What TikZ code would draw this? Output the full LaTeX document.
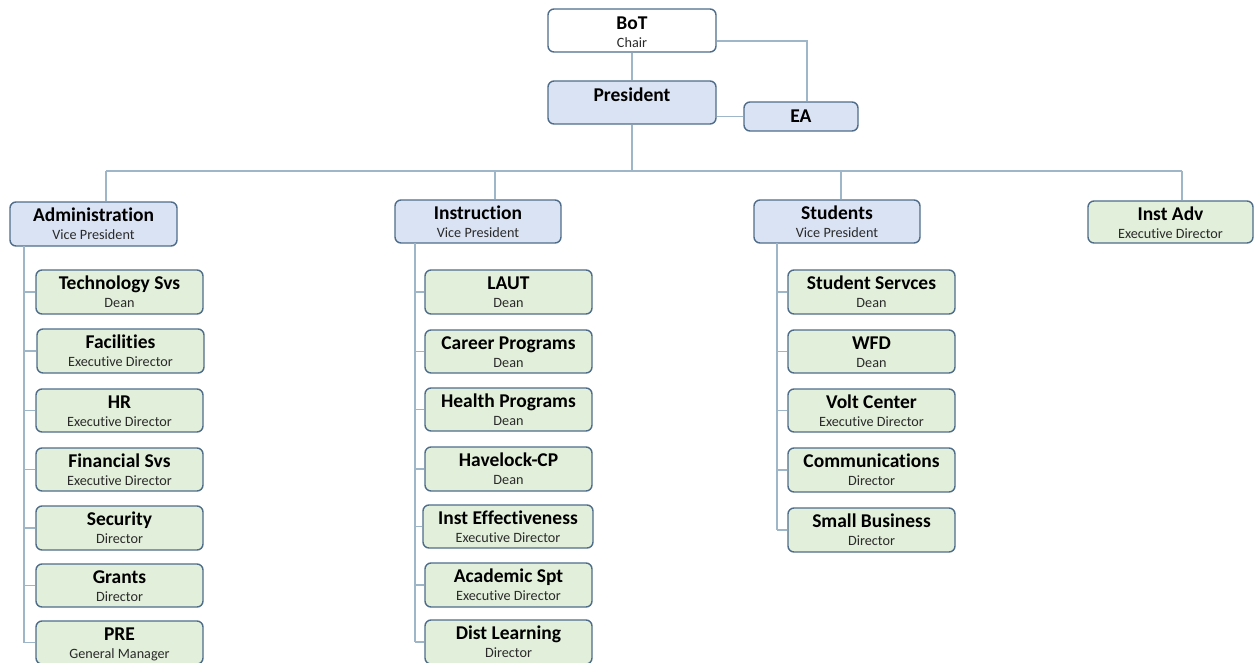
\documentclass[tikz,border=0pt]{standalone}
\usepackage{fontspec}
\setmainfont{Carlito}[Ligatures={NoCommon}]
\usetikzlibrary{fit}
\definecolor{bordc}{HTML}{4F6D8A}
\definecolor{linec}{HTML}{9FB5C8}
\definecolor{bluef}{HTML}{DAE3F3}
\definecolor{greenf}{HTML}{E2EFDA}
\definecolor{subc}{HTML}{2A2A2A}
\tikzset{
  obox/.style={draw=bordc, line width=1.4pt, rounded corners=6pt, inner sep=0pt},
  otitle/.style={anchor=base, inner sep=0pt, font=\fontsize{19.5}{21}\selectfont\bfseries, text=black},
  osub/.style={anchor=base, inner sep=0pt, font=\fontsize{14.2}{16}\selectfont, text=subc},
  conn/.style={draw=linec, line width=1.2pt},
}
\newcommand\orgbox[8]{%
  \node[obox, fill=#6, fit={(#2,#3)(#4,#5)}] (#1) {};
  \node[otitle] (#1-t) at ([yshift=-20.5pt]#1.north) {#7};
  \node[osub] (#1-s) at ([yshift=-38.5pt]#1.north) {#8};
}
\begin{document}
\begin{tikzpicture}[x=1pt,y=-1pt]
\useasboundingbox (0,0) rectangle (1254,662);
\coordinate (bus) at (632,171);
\coordinate (dA) at (106,171);
\coordinate (dI) at (495,171);
\coordinate (dS) at (841,171);
\coordinate (dV) at (1182,171);
\coordinate (eaK) at (807,41);
\coordinate (spA) at (24,246);
\coordinate (spI) at (415,243);
\coordinate (spS) at (777,243);

% top boxes
\node[obox, fill=white, fit={(548,9)(716,52)}] (bot) {};
\node[otitle] (bot-t) at ([yshift=-21pt]bot.north) {BoT};
\node[osub] (bot-s) at ([yshift=-39pt]bot.north) {Chair};
\node[obox, fill=bluef, fit={(548,81)(716,124)}] (pres) {};
\node[otitle] (pres-t) at ([yshift=-21pt]pres.north) {President};
\node[obox, fill=bluef, fit={(744,102)(858,131)}] (ea) {};
\node[otitle] (ea-t) at ([yshift=-21pt]ea.north) {EA};

% level 2
\orgbox{adm}{10}{202}{177}{246}{bluef}{Administration}{Vice President}
\orgbox{ins}{395}{200}{561}{243}{bluef}{Instruction}{Vice President}
\orgbox{stu}{754}{200}{920}{243}{bluef}{Students}{Vice President}
\orgbox{iad}{1088}{201}{1253}{243}{greenf}{Inst Adv}{Executive Director}

% administration children
\orgbox{a1}{36}{270}{203}{314}{greenf}{Technology Svs}{Dean}
\orgbox{a2}{37}{329}{204}{373}{greenf}{Facilities}{Executive Director}
\orgbox{a3}{36}{389}{203}{432}{greenf}{HR}{Executive Director}
\orgbox{a4}{36}{448}{203}{491}{greenf}{Financial Svs}{Executive Director}
\orgbox{a5}{36}{506}{203}{550}{greenf}{Security}{Director}
\orgbox{a6}{36}{564}{203}{607}{greenf}{Grants}{Director}
\orgbox{a7}{36}{621}{203}{664}{greenf}{PRE}{General Manager}

% instruction children
\orgbox{i1}{425}{270}{592}{314}{greenf}{LAUT}{Dean}
\orgbox{i2}{425}{330}{592}{373}{greenf}{Career Programs}{Dean}
\orgbox{i3}{425}{388}{592}{431}{greenf}{Health Programs}{Dean}
\orgbox{i4}{425}{447}{592}{491}{greenf}{Havelock-CP}{Dean}
\orgbox{i5}{423}{505}{593}{548}{greenf}{Inst Effectiveness}{Executive Director}
\orgbox{i6}{425}{563}{592}{607}{greenf}{Academic Spt}{Executive Director}
\orgbox{i7}{425}{620}{592}{664}{greenf}{Dist Learning}{Director}

% students children
\orgbox{s1}{788}{270}{955}{314}{greenf}{Student Servces}{Dean}
\orgbox{s2}{788}{330}{955}{373}{greenf}{WFD}{Dean}
\orgbox{s3}{788}{389}{955}{432}{greenf}{Volt Center}{Executive Director}
\orgbox{s4}{788}{448}{955}{492}{greenf}{Communications}{Director}
\orgbox{s5}{788}{508}{955}{552}{greenf}{Small Business}{Director}

% connectors
\path[conn] (bot.south -| bus) -- (pres.north -| bus);
\path[conn] (pres.south -| bus) -- (bus);
\path[conn] (bot.east |- eaK) -- (eaK) -- (eaK |- ea.north);
\path[conn] (pres.east |- ea.west) -- (ea.west);
\path[conn] (dA) -- (dV);
\path[conn] (dA) -- (dA |- adm.north);
\path[conn] (dI) -- (dI |- ins.north);
\path[conn] (dS) -- (dS |- stu.north);
\path[conn] (dV) -- (dV |- iad.north);
\path[conn] (spA) -- (spA |- a7.west);
\foreach \n in {a1,a2,a3,a4,a5,a6,a7} \path[conn] (spA |- \n.west) -- (\n.west);
\path[conn] (spI) -- (spI |- i7.west);
\foreach \n in {i1,i2,i3,i4,i5,i6,i7} \path[conn] (spI |- \n.west) -- (\n.west);
\path[conn] (spS) -- (spS |- s5.west);
\foreach \n in {s1,s2,s3,s4,s5} \path[conn] (spS |- \n.west) -- (\n.west);
\end{tikzpicture}
\end{document}
